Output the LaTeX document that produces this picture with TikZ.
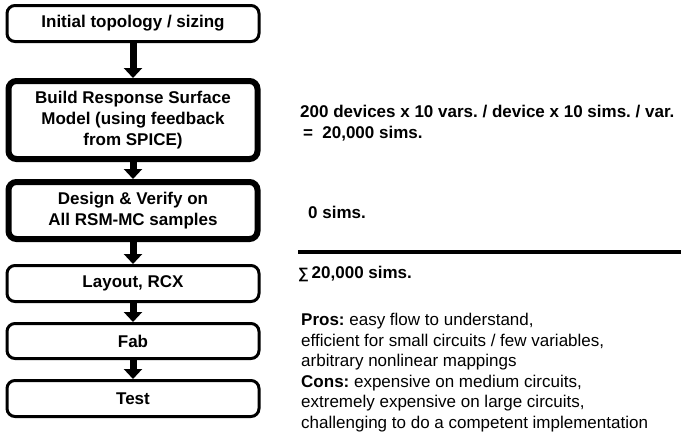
\documentclass[tikz,border=0pt]{standalone}
\usepackage{fontspec}
\setmainfont{Liberation Sans}
\usetikzlibrary{arrows.meta}
\frenchspacing
\tikzset{
  flowbox/.style={draw=black, rounded corners=8pt, align=center, font=\bfseries\fontsize{17}{21}\selectfont, inner sep=0pt},
  thinbox/.style={flowbox, line width=3pt, minimum width=252pt},
  thickbox/.style={flowbox, line width=6pt, minimum width=249pt},
  flowarrow/.style={line width=7pt, -{Triangle[width=18pt,length=10pt]}},
  sidetext/.style={anchor=west, align=left, inner sep=0pt, font=\bfseries\fontsize{17}{21}\selectfont},
  prostext/.style={anchor=north west, align=left, inner sep=0pt, font=\fontsize{17}{20.5}\selectfont}
}
\begin{document}
\begin{tikzpicture}[x=1pt,y=-1pt]
\useasboundingbox (0,0) rectangle (681,434);
\node[thinbox, minimum height=36pt] (b1) at (133,23.5) {Initial topology / sizing};
\node[thickbox, minimum height=78pt] (b2) at (133,120) {Build Response Surface\\Model (using feedback\\from SPICE)};
\node[thickbox, minimum height=57pt] (b3) at (133,210.5) {Design \& Verify on\\All RSM-MC samples};
\node[thinbox, minimum height=36pt] (b4) at (133,283.5) {Layout, RCX};
\node[thinbox, minimum height=35pt] (b5) at (133,341) {Fab};
\node[thinbox, minimum height=36pt] (b6) at (133,398.5) {Test};
\draw[flowarrow] (b1.south) -- (b2.north);
\draw[flowarrow] (b2.south) -- (b3.north);
\draw[flowarrow] (b3.south) -- (b4.north);
\draw[flowarrow] (b4.south) -- (b5.north);
\draw[flowarrow] (b5.south) -- (b6.north);
\node[sidetext] (t1) at (300,123) {200 devices x 10 vars. / device x 10 sims. / var.\\\,=\ \ 20,000 sims.};
\node[sidetext] (t2) at (308,212) {0 sims.};
\coordinate (l1) at (298,252);
\coordinate (l2) at (681,252);
\draw[line width=4pt] (l1) -- (l2);
\node[sidetext] (t3) at (298,274) {{\fontsize{15}{15}\selectfont∑}\,20,000 sims.};
\node[prostext] (t4) at (301,313) {\textbf{Pros:} easy flow to understand,\\efficient for small circuits / few variables,\\arbitrary nonlinear mappings\\\textbf{Cons:} expensive on medium circuits,\\extremely expensive on large circuits,\\challenging to do a competent implementation};
\end{tikzpicture}
\end{document}
